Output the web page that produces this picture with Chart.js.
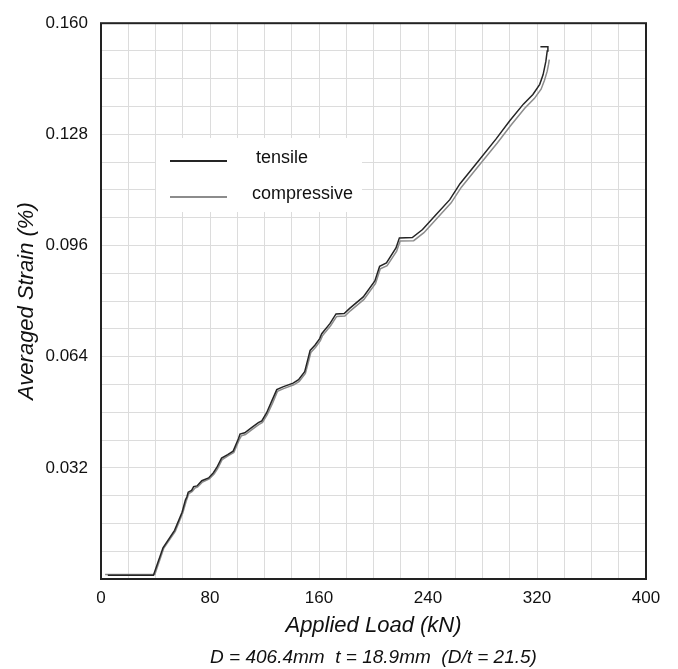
<!DOCTYPE html>
<html>
<head>
<meta charset="utf-8">
<script src="https://cdn.jsdelivr.net/npm/chart.js@4"></script>
<style>
  body { margin: 0; background: #fff; }
  #wrap { width: 678px; height: 669px; }
</style>
</head>
<body>
<div id="wrap"><canvas id="strainChart"></canvas></div>
<script>
// values
const tensileLoad = [5, 38.5, 45.5, 54, 59.5, 62, 63, 64, 66.5, 68, 70.5, 74, 79, 82.5, 85, 88.5, 93, 97, 101, 102, 105.5, 110.5, 115.5, 118, 121.5, 125.3, 129, 133.5, 141, 145, 149.5, 152, 153.5, 157, 160.5, 162, 168, 172.5, 178.5, 182.5, 192.5, 201, 204.5, 209.5, 216.5, 219, 228.5, 236, 246, 256, 263.5, 275.5, 290, 300, 310, 317, 322, 324.5, 326.5, 327.5, 328, 322.5];
const tensileStrain = [0.0011, 0.0011, 0.0090, 0.0140, 0.0192, 0.0228, 0.0236, 0.0250, 0.0255, 0.0266, 0.0268, 0.0283, 0.0291, 0.0306, 0.0321, 0.0348, 0.0358, 0.0368, 0.0405, 0.0417, 0.0421, 0.0436, 0.0450, 0.0455, 0.0478, 0.0512, 0.0545, 0.0553, 0.0564, 0.0574, 0.0597, 0.0635, 0.0658, 0.0673, 0.0692, 0.0706, 0.0735, 0.0763, 0.0764, 0.0779, 0.0812, 0.0858, 0.0900, 0.0910, 0.0953, 0.0982, 0.0983, 0.1006, 0.1049, 0.1092, 0.1138, 0.1196, 0.1267, 0.1319, 0.1367, 0.1395, 0.1424, 0.1452, 0.1490, 0.1520, 0.1532, 0.1532];

const compressiveLoad = [3, 39.5, 46, 54.5, 60, 62.5, 64.5, 67, 69, 71, 74.5, 79.5, 83, 85.5, 89, 93.5, 97.5, 101.5, 103, 106, 111, 116, 118.5, 122, 126, 129.5, 134, 141.5, 145.5, 150, 152.5, 154, 157.5, 161, 162.5, 168.5, 173, 179, 183, 193, 201.5, 205, 210, 217, 219.5, 229.5, 237, 247, 257, 264.5, 276.5, 291, 301, 311, 318, 323, 325.5, 327.5, 328.5, 329];
const compressiveStrain = [0.0013, 0.0013, 0.0088, 0.0137, 0.0190, 0.0224, 0.0246, 0.0252, 0.0262, 0.0265, 0.0279, 0.0288, 0.0302, 0.0317, 0.0344, 0.0355, 0.0364, 0.0401, 0.0412, 0.0416, 0.0431, 0.0445, 0.0451, 0.0473, 0.0507, 0.0540, 0.0548, 0.0559, 0.0569, 0.0592, 0.0629, 0.0652, 0.0667, 0.0686, 0.0700, 0.0729, 0.0756, 0.0757, 0.0772, 0.0805, 0.0851, 0.0893, 0.0902, 0.0944, 0.0973, 0.0974, 0.0997, 0.1040, 0.1083, 0.1128, 0.1186, 0.1256, 0.1307, 0.1355, 0.1383, 0.1410, 0.1436, 0.1462, 0.1482, 0.1495];

const xTickLabels = [0, 80, 160, 240, 320, 400];
const yTickLabels = ['0.032', '0.064', '0.096', '0.128', '0.160'];

function toPoints(xs, ys) {
    return xs.map((x, i) => ({ x: x, y: ys[i] }));
}

const FONT = '"Liberation Sans", Arial, Helvetica, sans-serif';
Chart.defaults.font.family = FONT;
Chart.defaults.color = '#111';

// frame round the plot area plus the boxed legend
const framePlugin = {
    id: 'frame',
    beforeDatasetsDraw(chart) {
        const { ctx } = chart;
        ctx.save();
        // legend box (white, hides the grid)
        ctx.fillStyle = '#fff';
        ctx.fillRect(156, 138, 206, 74);
        const items = chart.data.datasets;
        const rows = [159, 195];
        const textX = [256, 252];
        ctx.font = '18px ' + FONT;
        ctx.textBaseline = 'middle';
        items.forEach((ds, i) => {
            ctx.strokeStyle = ds.borderColor;
            ctx.lineWidth = 2;
            ctx.beginPath();
            ctx.moveTo(170, rows[i] + 2);
            ctx.lineTo(227, rows[i] + 2);
            ctx.stroke();
            ctx.fillStyle = '#111';
            ctx.fillText(ds.label, textX[i], rows[i] - 1);
        });
        ctx.restore();
    },
    afterDraw(chart) {
        const { ctx, chartArea: a } = chart;
        ctx.save();
        ctx.strokeStyle = '#222';
        ctx.lineWidth = 2;
        ctx.strokeRect(a.left, a.top, a.right - a.left, a.bottom - a.top);
        ctx.restore();
    }
};

const ctx = document.getElementById('strainChart').getContext('2d');
const chart = new Chart(ctx, {
    type: 'line',
    data: {
        datasets: [{
            label: 'tensile',
            data: toPoints(tensileLoad, tensileStrain),
            borderColor: '#252525',
            borderWidth: 1.5,
            pointRadius: 0,
            tension: 0,
        }, {
            label: 'compressive',
            data: toPoints(compressiveLoad, compressiveStrain),
            borderColor: '#8c8c8c',
            borderWidth: 1.5,
            pointRadius: 0,
            tension: 0,
        }],
    },
    options: {
        responsive: true,
        maintainAspectRatio: false,
        animation: false,
        layout: {
            padding: { top: 17, right: 32, bottom: 0, left: 0 },
        },
        plugins: {
            legend: { display: false },
            tooltip: { enabled: false },
            title: { display: false },
            subtitle: {
                display: true,
                position: 'bottom',
                fullSize: false,
                text: 'D = 406.4mm  t = 18.9mm  (D/t = 21.5)',
                color: '#111',
                font: { size: 19, style: 'italic', weight: 'normal' },
                padding: 0,
            },
        },
        scales: {
            x: {
                type: 'linear',
                min: 0,
                max: 400,
                border: { display: false },
                grid: { color: '#dcdcdc', lineWidth: 1, drawTicks: false },
                ticks: {
                    stepSize: 20,
                    autoSkip: false,
                    maxRotation: 0,
                    padding: 9,
                    font: { size: 17 },
                    callback: (v) => xTickLabels.includes(v) ? String(v) : '',
                },
                title: {
                    display: true,
                    text: 'Applied Load (kN)',
                    font: { size: 22, style: 'italic' },
                    padding: { top: 0, bottom: 7 },
                },
                afterFit: (scale) => { scale.height = 67.2; },
            },
            y: {
                type: 'linear',
                min: 0,
                max: 0.16,
                border: { display: false },
                grid: { color: '#dcdcdc', lineWidth: 1, drawTicks: false },
                ticks: {
                    stepSize: 0.008,
                    autoSkip: false,
                    padding: 13,
                    font: { size: 17 },
                    callback: (v) => {
                        const lbl = v.toFixed(3);
                        return yTickLabels.includes(lbl) ? lbl : '';
                    },
                },
                title: {
                    display: true,
                    text: 'Averaged Strain (%)',
                    font: { size: 22, style: 'italic' },
                    padding: { top: 14, bottom: 0 },
                },
                afterFit: (scale) => { scale.width = 101; },
            },
        },
    },
    plugins: [framePlugin],
});
</script>
</body>
</html>
